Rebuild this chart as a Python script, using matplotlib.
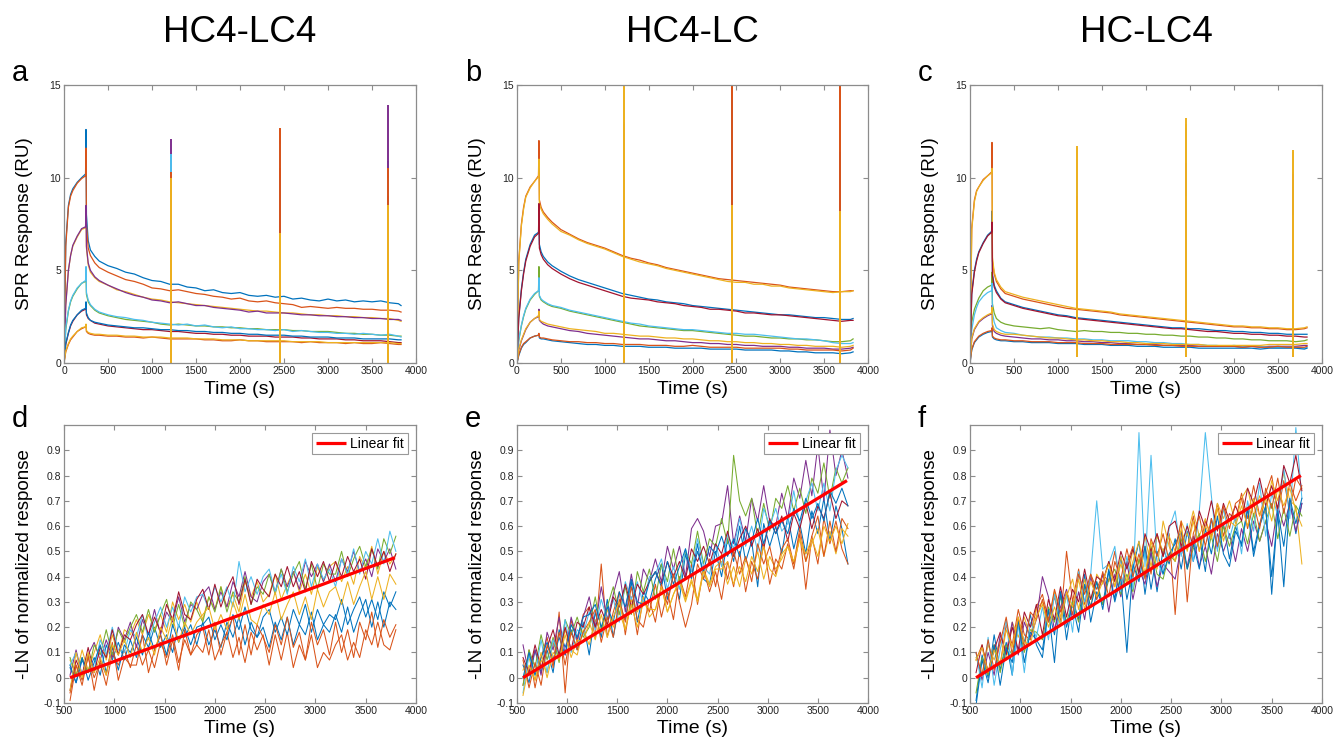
import matplotlib
matplotlib.use('Agg')
import matplotlib.pyplot as plt

plt.rcParams['font.family'] = ['Liberation Sans', 'DejaVu Sans']

# matlab default colour order
matlab_cols = ['#0072BD', '#D95319', '#EDB120', '#7E2F8E', '#77AC30', '#4DBEEE', '#A2142F']

titles = ['HC4-LC4', 'HC4-LC', 'HC-LC4']
letters_top = ['a', 'b', 'c']
letters_bot = ['d', 'e', 'f']

# ---------------- SPR sensorgrams (top row) ----------------
t_spr = [0, 20, 50, 75, 100, 150, 200, 245,
         250, 255, 275, 300, 350, 400,
         500, 600, 700, 800, 900, 1000, 1100, 1200, 1300, 1400,
         1500, 1600, 1700, 1800, 1900, 2000, 2100, 2200, 2300, 2400,
         2500, 2600, 2700, 2800, 2900, 3000, 3100, 3200, 3300, 3400,
         3500, 3600, 3700, 3800, 3830]

spr_a = [
    [0, 6.5, 8.5, 9.1, 9.4, 9.75, 10.0, 10.2,
     12.6, 8.0, 6.6, 6.1, 5.75, 5.5,
     5.25, 5.1, 4.9, 4.8, 4.6, 4.45, 4.4, 4.25, 4.25, 4.1,
     4.05, 3.9, 3.95, 3.8, 3.75, 3.8, 3.65, 3.6, 3.65, 3.55,
     3.6, 3.45, 3.5, 3.4, 3.35, 3.45, 3.35, 3.4, 3.3, 3.35,
     3.3, 3.35, 3.25, 3.2, 3.1],
    [0, 6.3, 8.4, 9.0, 9.3, 9.7, 9.95, 10.1,
     11.6, 7.5, 6.2, 5.8, 5.4, 5.15,
     4.9, 4.7, 4.5, 4.4, 4.25, 4.05, 4.0, 3.9, 3.95, 3.85,
     3.75, 3.7, 3.6, 3.55, 3.45, 3.5, 3.35, 3.3, 3.35, 3.25,
     3.2, 3.15, 3.0, 3.05, 3.0, 2.95, 3.0, 2.95, 2.95, 2.9,
     2.9, 2.85, 2.85, 2.8, 2.75],
    [0, 3.2, 5.0, 5.8, 6.3, 6.8, 7.2, 7.3,
     8.3, 6.2, 5.3, 4.9, 4.6, 4.4,
     4.2, 3.95, 3.85, 3.7, 3.55, 3.45, 3.4, 3.3, 3.25, 3.2,
     3.15, 3.1, 3.05, 3.0, 2.95, 2.9, 2.85, 2.8, 2.8, 2.75,
     2.7, 2.7, 2.65, 2.6, 2.6, 2.55, 2.55, 2.5, 2.5, 2.45,
     2.45, 2.4, 2.4, 2.3, 2.25],
    [0, 3.1, 5.0, 5.8, 6.35, 6.85, 7.25, 7.35,
     8.5, 6.3, 5.4, 5.0, 4.65, 4.45,
     4.2, 4.0, 3.8, 3.65, 3.55, 3.4, 3.35, 3.25, 3.3, 3.2,
     3.1, 3.1, 3.0, 2.95, 2.9, 2.85, 2.75, 2.8, 2.7, 2.7,
     2.7, 2.65, 2.6, 2.6, 2.55, 2.55, 2.5, 2.5, 2.45, 2.45,
     2.4, 2.4, 2.35, 2.35, 2.3],
    [0, 1.8, 2.8, 3.3, 3.6, 4.0, 4.3, 4.4,
     4.9, 3.7, 3.3, 3.1, 2.85, 2.7,
     2.55, 2.45, 2.35, 2.3, 2.25, 2.2, 2.1, 2.05, 2.1, 2.05,
     2.0, 2.0, 1.95, 1.95, 1.9, 1.9, 1.85, 1.85, 1.8, 1.8,
     1.8, 1.75, 1.75, 1.7, 1.7, 1.7, 1.65, 1.6, 1.6, 1.55,
     1.55, 1.5, 1.5, 1.45, 1.45],
    [0, 1.9, 2.85, 3.35, 3.65, 4.05, 4.3, 4.45,
     5.2, 3.8, 3.4, 3.15, 2.9, 2.75,
     2.6, 2.5, 2.45, 2.35, 2.3, 2.2, 2.15, 2.1, 2.05, 2.1,
     2.0, 2.05, 1.95, 1.9, 1.95, 1.85, 1.85, 1.8, 1.8, 1.75,
     1.8, 1.7, 1.75, 1.7, 1.65, 1.65, 1.6, 1.6, 1.55, 1.6,
     1.55, 1.5, 1.55, 1.45, 1.4],
    [0, 1.0, 1.6, 2.0, 2.25, 2.6, 2.8, 2.9,
     3.2, 2.6, 2.4, 2.3, 2.15, 2.1,
     2.0, 1.95, 1.9, 1.85, 1.8, 1.8, 1.75, 1.7, 1.7, 1.65,
     1.6, 1.6, 1.55, 1.55, 1.5, 1.5, 1.45, 1.45, 1.45, 1.4,
     1.4, 1.4, 1.35, 1.35, 1.3, 1.3, 1.3, 1.25, 1.25, 1.2,
     1.2, 1.2, 1.15, 1.1, 1.1],
    [0, 1.05, 1.65, 2.05, 2.3, 2.6, 2.85, 2.95,
     3.3, 2.7, 2.45, 2.3, 2.2, 2.15,
     2.05, 2.0, 1.95, 1.9, 1.9, 1.85, 1.8, 1.8, 1.75, 1.75,
     1.7, 1.7, 1.65, 1.65, 1.6, 1.6, 1.55, 1.55, 1.5, 1.5,
     1.5, 1.45, 1.45, 1.4, 1.4, 1.4, 1.35, 1.35, 1.35, 1.3,
     1.3, 1.3, 1.3, 1.25, 1.25],
    [0, 0.6, 1.0, 1.25, 1.4, 1.7, 1.85, 1.95,
     2.0, 1.7, 1.6, 1.55, 1.5, 1.5,
     1.45, 1.45, 1.4, 1.4, 1.35, 1.4, 1.35, 1.3, 1.3, 1.3,
     1.3, 1.25, 1.25, 1.2, 1.2, 1.25, 1.2, 1.2, 1.15, 1.15,
     1.15, 1.15, 1.1, 1.15, 1.1, 1.1, 1.1, 1.05, 1.1, 1.05,
     1.05, 1.1, 1.05, 1.0, 1.0],
    [0, 0.65, 1.05, 1.3, 1.45, 1.7, 1.9, 1.95,
     2.1, 1.75, 1.65, 1.6, 1.55, 1.55,
     1.5, 1.5, 1.45, 1.45, 1.4, 1.4, 1.4, 1.35, 1.35, 1.35,
     1.3, 1.3, 1.3, 1.25, 1.25, 1.25, 1.2, 1.2, 1.2, 1.2,
     1.2, 1.15, 1.15, 1.15, 1.15, 1.1, 1.1, 1.1, 1.1, 1.1,
     1.1, 1.1, 1.1, 1.05, 1.05],
]

spr_b = [
    [0, 2.5, 4.0, 4.9, 5.6, 6.4, 6.9, 7.05,
     7.3, 6.4, 6.0, 5.75, 5.45, 5.25,
     4.95, 4.7, 4.5, 4.35, 4.2, 4.05, 3.9, 3.75, 3.65, 3.55,
     3.45, 3.4, 3.3, 3.25, 3.2, 3.1, 3.05, 3.0, 2.95, 2.9,
     2.85, 2.8, 2.75, 2.7, 2.65, 2.6, 2.6, 2.55, 2.5, 2.45,
     2.45, 2.4, 2.35, 2.35, 2.4],
    [0, 5.5, 7.5, 8.4, 9.0, 9.5, 9.8, 10.1,
     12.0, 8.8, 8.4, 8.15, 7.85, 7.6,
     7.2, 6.95, 6.7, 6.5, 6.35, 6.2, 6.0, 5.8, 5.65, 5.55,
     5.4, 5.3, 5.15, 5.05, 4.95, 4.85, 4.75, 4.65, 4.55, 4.5,
     4.45, 4.4, 4.35, 4.3, 4.25, 4.2, 4.1, 4.05, 4.0, 3.95,
     3.9, 3.85, 3.85, 3.9, 3.9],
    [0, 5.4, 7.4, 8.3, 8.95, 9.45, 9.8, 10.05,
     11.0, 8.6, 8.3, 8.05, 7.75, 7.5,
     7.1, 6.9, 6.65, 6.45, 6.3, 6.15, 5.95, 5.75, 5.6, 5.45,
     5.35, 5.25, 5.1, 5.0, 4.9, 4.8, 4.7, 4.6, 4.5, 4.4,
     4.35, 4.35, 4.25, 4.25, 4.15, 4.15, 4.05, 4.0, 3.95, 3.9,
     3.85, 3.8, 3.85, 3.85, 3.9],
    [0, 0.7, 1.2, 1.5, 1.8, 2.2, 2.4, 2.5,
     2.9, 2.3, 2.2, 2.1, 2.0, 1.95,
     1.85, 1.75, 1.7, 1.6, 1.55, 1.5, 1.45, 1.4, 1.35, 1.3,
     1.3, 1.25, 1.2, 1.2, 1.15, 1.1, 1.1, 1.05, 1.05, 1.0,
     1.0, 0.95, 0.95, 0.9, 0.9, 0.9, 0.85, 0.85, 0.8, 0.8,
     0.8, 0.75, 0.75, 0.8, 0.85],
    [0, 1.2, 2.0, 2.5, 2.9, 3.4, 3.7, 3.9,
     5.2, 3.6, 3.4, 3.3, 3.15, 3.05,
     2.95, 2.8, 2.7, 2.6, 2.5, 2.4, 2.3, 2.2, 2.1, 2.0,
     1.95, 1.9, 1.85, 1.8, 1.75, 1.75, 1.7, 1.65, 1.6, 1.55,
     1.5, 1.45, 1.45, 1.4, 1.35, 1.35, 1.3, 1.3, 1.25, 1.25,
     1.2, 1.15, 1.15, 1.2, 1.3],
    [0, 1.25, 2.05, 2.55, 2.95, 3.45, 3.75, 3.9,
     4.6, 3.65, 3.45, 3.35, 3.2, 3.1,
     3.0, 2.85, 2.75, 2.65, 2.55, 2.45, 2.35, 2.25, 2.15, 2.1,
     2.0, 1.95, 1.9, 1.85, 1.8, 1.8, 1.75, 1.7, 1.65, 1.6,
     1.6, 1.55, 1.55, 1.5, 1.45, 1.4, 1.35, 1.3, 1.3, 1.25,
     1.2, 1.1, 1.05, 1.05, 1.1],
    [0, 2.4, 3.9, 4.8, 5.5, 6.3, 6.8, 7.0,
     8.6, 6.2, 5.85, 5.6, 5.3, 5.1,
     4.8, 4.55, 4.35, 4.2, 4.05, 3.9, 3.75, 3.6, 3.5, 3.45,
     3.4, 3.3, 3.25, 3.2, 3.1, 3.05, 3.0, 2.9, 2.9, 2.85,
     2.8, 2.7, 2.7, 2.65, 2.6, 2.6, 2.55, 2.5, 2.45, 2.4,
     2.35, 2.3, 2.25, 2.3, 2.3],
    [0, 0.4, 0.8, 1.0, 1.1, 1.35, 1.45, 1.5,
     1.55, 1.35, 1.3, 1.3, 1.25, 1.2,
     1.15, 1.1, 1.05, 1.0, 1.0, 0.95, 0.95, 0.9, 0.9, 0.9,
     0.85, 0.85, 0.85, 0.8, 0.8, 0.8, 0.8, 0.75, 0.75, 0.75,
     0.75, 0.7, 0.7, 0.7, 0.7, 0.65, 0.65, 0.6, 0.6, 0.55,
     0.55, 0.55, 0.5, 0.55, 0.6],
    [0, 0.45, 0.85, 1.05, 1.15, 1.35, 1.45, 1.5,
     1.6, 1.4, 1.35, 1.35, 1.3, 1.25,
     1.2, 1.15, 1.15, 1.1, 1.1, 1.05, 1.05, 1.0, 1.0, 1.0,
     0.95, 0.95, 0.95, 0.9, 0.9, 0.95, 0.9, 0.85, 0.85, 0.85,
     0.85, 0.8, 0.8, 0.8, 0.8, 0.8, 0.75, 0.75, 0.7, 0.7,
     0.7, 0.7, 0.65, 0.7, 0.8],
    [0, 0.75, 1.25, 1.55, 1.85, 2.2, 2.4, 2.55,
     2.8, 2.35, 2.25, 2.2, 2.1, 2.05,
     1.95, 1.85, 1.8, 1.75, 1.7, 1.6, 1.6, 1.55, 1.5, 1.45,
     1.45, 1.4, 1.35, 1.35, 1.3, 1.3, 1.25, 1.2, 1.2, 1.15,
     1.15, 1.1, 1.1, 1.05, 1.05, 1.0, 1.0, 0.95, 0.95, 0.9,
     0.9, 0.9, 0.85, 0.9, 0.95],
]

spr_c = [
    [0, 3.8, 5.0, 5.6, 6.0, 6.5, 6.9, 7.1,
     8.2, 4.8, 4.2, 3.9, 3.5, 3.3,
     3.15, 3.0, 2.9, 2.8, 2.7, 2.6, 2.55, 2.45, 2.4, 2.35,
     2.3, 2.25, 2.2, 2.15, 2.1, 2.05, 2.0, 1.95, 1.9, 1.9,
     1.85, 1.85, 1.8, 1.75, 1.75, 1.7, 1.7, 1.65, 1.65, 1.6,
     1.6, 1.55, 1.55, 1.55, 1.55],
    [0, 7.3, 8.8, 9.3, 9.5, 9.9, 10.1, 10.3,
     11.9, 5.5, 4.8, 4.4, 4.0, 3.75,
     3.6, 3.45, 3.35, 3.25, 3.15, 3.05, 2.95, 2.9, 2.85, 2.8,
     2.75, 2.7, 2.6, 2.55, 2.5, 2.45, 2.4, 2.35, 2.3, 2.25,
     2.2, 2.15, 2.1, 2.05, 2.0, 1.95, 1.95, 1.9, 1.9, 1.85,
     1.85, 1.8, 1.8, 1.85, 1.9],
    [0, 7.2, 8.7, 9.25, 9.5, 9.85, 10.1, 10.25,
     10.5, 5.7, 4.9, 4.5, 4.1, 3.85,
     3.7, 3.55, 3.45, 3.35, 3.25, 3.15, 3.05, 2.95, 2.9, 2.85,
     2.8, 2.75, 2.65, 2.6, 2.55, 2.5, 2.45, 2.4, 2.35, 2.3,
     2.25, 2.2, 2.15, 2.1, 2.05, 2.0, 2.0, 1.95, 1.95, 1.9,
     1.9, 1.85, 1.85, 1.9, 1.95],
    [0, 1.3, 1.8, 2.0, 2.2, 2.4, 2.55, 2.65,
     3.1, 2.0, 1.7, 1.6, 1.5, 1.45,
     1.4, 1.35, 1.3, 1.3, 1.25, 1.25, 1.2, 1.2, 1.15, 1.15,
     1.1, 1.1, 1.05, 1.05, 1.0, 1.0, 1.0, 0.95, 0.95, 0.95,
     0.95, 0.9, 0.9, 0.9, 0.9, 0.9, 0.85, 0.9, 0.85, 0.9,
     0.9, 0.9, 0.9, 0.95, 0.95],
    [0, 2.2, 2.9, 3.2, 3.5, 3.9, 4.1, 4.2,
     4.9, 3.2, 2.7, 2.4, 2.2, 2.1,
     2.0, 1.95, 1.9, 1.85, 1.9, 1.8, 1.75, 1.7, 1.75, 1.7,
     1.7, 1.65, 1.65, 1.6, 1.6, 1.55, 1.55, 1.5, 1.5, 1.45,
     1.45, 1.4, 1.4, 1.35, 1.35, 1.3, 1.3, 1.25, 1.25, 1.2,
     1.2, 1.2, 1.15, 1.2, 1.25],
    [0, 1.8, 2.6, 3.0, 3.3, 3.6, 3.8, 3.9,
     4.3, 2.7, 2.2, 1.9, 1.75, 1.65,
     1.6, 1.5, 1.45, 1.4, 1.4, 1.35, 1.35, 1.3, 1.3, 1.25,
     1.25, 1.2, 1.2, 1.2, 1.15, 1.15, 1.1, 1.1, 1.05, 1.05,
     1.0, 1.0, 0.95, 0.95, 0.9, 0.95, 0.9, 0.9, 0.9, 0.85,
     0.85, 0.85, 0.85, 0.8, 0.85],
    [0, 3.7, 4.9, 5.5, 5.95, 6.45, 6.85, 7.05,
     7.6, 4.7, 4.1, 3.8, 3.45, 3.25,
     3.1, 2.95, 2.85, 2.75, 2.65, 2.55, 2.5, 2.4, 2.35, 2.3,
     2.25, 2.2, 2.15, 2.1, 2.05, 2.0, 1.95, 1.9, 1.85, 1.85,
     1.8, 1.75, 1.7, 1.7, 1.65, 1.6, 1.6, 1.55, 1.55, 1.5,
     1.5, 1.45, 1.45, 1.4, 1.4],
    [0, 0.7, 1.1, 1.25, 1.4, 1.55, 1.65, 1.7,
     1.8, 1.4, 1.3, 1.25, 1.2, 1.2,
     1.15, 1.15, 1.1, 1.1, 1.1, 1.05, 1.05, 1.05, 1.0, 1.0,
     1.0, 0.95, 0.95, 0.95, 0.9, 0.9, 0.9, 0.85, 0.85, 0.85,
     0.85, 0.8, 0.8, 0.8, 0.8, 0.8, 0.8, 0.8, 0.75, 0.8,
     0.8, 0.8, 0.8, 0.75, 0.8],
    [0, 0.75, 1.15, 1.3, 1.45, 1.6, 1.7, 1.75,
     1.9, 1.45, 1.35, 1.3, 1.25, 1.25,
     1.2, 1.2, 1.15, 1.15, 1.15, 1.1, 1.1, 1.1, 1.05, 1.05,
     1.05, 1.0, 1.0, 1.0, 1.0, 1.0, 0.95, 0.95, 0.95, 0.9,
     0.9, 0.9, 0.9, 0.9, 0.9, 0.9, 0.85, 0.9, 0.85, 0.85,
     0.9, 0.85, 0.85, 0.85, 0.9],
    [0, 1.35, 1.85, 2.05, 2.25, 2.45, 2.6, 2.7,
     3.0, 2.1, 1.8, 1.7, 1.6, 1.55,
     1.55, 1.5, 1.45, 1.4, 1.35, 1.35, 1.3, 1.25, 1.25, 1.2,
     1.2, 1.15, 1.15, 1.1, 1.1, 1.05, 1.05, 1.05, 1.0, 1.0,
     1.0, 1.0, 0.95, 0.95, 0.95, 0.95, 0.95, 0.95, 0.95, 1.0,
     1.0, 1.0, 1.0, 1.05, 1.05],
]

# injection spikes (time, low end, high end per curve)
spike_t_a = [1215, 2450, 3680]
spike_t_b = [1215, 2455, 3680]
spike_t_c = [1220, 2455, 3670]
spike_lo_a = [0.0, 0.0, 0.0]
spike_lo_b = [0.0, 0.0, 0.0]
spike_lo_c = [0.3, 0.3, 0.3]
spike_hi_a = [[10.8, 11.5, 10.9], [10.2, 12.7, 10.4], [9.8, 11.3, 9.0], [12.1, 12.0, 13.9],
              [9.5, 11.0, 9.5], [11.3, 11.8, 10.0], [8.6, 10.5, 8.0], [9.0, 10.0, 9.0],
              [10.3, 12.6, 10.5], [10.0, 7.0, 8.5]]
spike_hi_b = [[7.0, 8.0, 7.0], [13.0, 15.5, 15.5], [15.5, 14.2, 13.7], [5.0, 5.0, 5.0],
              [6.0, 6.0, 6.0], [6.0, 6.0, 6.0], [8.0, 9.0, 8.5], [12.9, 14.2, 11.4],
              [12.9, 15.5, 15.5], [15.5, 8.5, 8.2]]
spike_hi_c = [[9.8, 10.8, 10.3], [9.5, 12.7, 10.3], [11.7, 13.2, 11.5], [8.0, 9.0, 8.0],
              [8.0, 9.0, 8.0], [9.9, 10.0, 9.5], [8.5, 10.8, 10.2], [8.0, 9.0, 8.0],
              [9.0, 9.0, 8.0], [11.6, 12.9, 11.4]]

# ---------------- -LN of normalized response (bottom row) ----------------
t_ln = [560, 620, 680, 740, 800, 860, 920, 980, 1040, 1100, 1160,
        1220, 1280, 1340, 1400, 1460, 1520, 1580, 1640, 1700, 1760, 1820,
        1880, 1940, 2000, 2060, 2120, 2180, 2240, 2300, 2360, 2420, 2480,
        2540, 2600, 2660, 2720, 2780, 2840, 2900, 2960, 3020, 3080, 3140,
        3200, 3260, 3320, 3380, 3440, 3500, 3560, 3620, 3680, 3740, 3800]

ln_d = [
    [0.04, -0.02, 0.07, 0.02, 0.08, 0.01, 0.13, 0.07, 0.14, 0.07, 0.15,
     0.08, 0.17, 0.12, 0.20, 0.12, 0.17, 0.10, 0.21, 0.16, 0.21, 0.13,
     0.22, 0.13, 0.19, 0.12, 0.22, 0.16, 0.24, 0.13, 0.22, 0.16, 0.20,
     0.12, 0.22, 0.15, 0.24, 0.13, 0.21, 0.17, 0.26, 0.15, 0.21, 0.18,
     0.25, 0.18, 0.28, 0.18, 0.25, 0.31, 0.20, 0.30, 0.20, 0.30, 0.27],
    [-0.06, 0.05, -0.01, 0.08, 0.00, 0.06, -0.03, 0.10, 0.05, 0.11, 0.04,
     0.13, 0.05, 0.11, 0.04, 0.14, 0.08, 0.17, 0.06, 0.15, 0.09, 0.13,
     0.10, 0.19, 0.07, 0.13, 0.18, 0.08, 0.16, 0.06, 0.18, 0.11, 0.17,
     0.05, 0.17, 0.07, 0.18, 0.04, 0.13, 0.07, 0.17, 0.04, 0.10, 0.07,
     0.13, 0.17, 0.07, 0.14, 0.08, 0.19, 0.13, 0.22, 0.13, 0.11, 0.19],
    [0.07, 0.01, 0.11, 0.03, 0.10, 0.17, 0.07, 0.17, 0.09, 0.19, 0.17,
     0.23, 0.17, 0.25, 0.19, 0.25, 0.18, 0.30, 0.23, 0.29, 0.22, 0.30,
     0.23, 0.32, 0.27, 0.36, 0.28, 0.33, 0.26, 0.38, 0.32, 0.38, 0.30,
     0.33, 0.41, 0.31, 0.37, 0.42, 0.34, 0.41, 0.33, 0.44, 0.38, 0.44,
     0.46, 0.38, 0.44, 0.37, 0.48, 0.43, 0.52, 0.41, 0.50, 0.45, 0.49],
    [0.01, 0.11, 0.01, 0.09, 0.14, 0.07, 0.15, 0.08, 0.20, 0.15, 0.22,
     0.12, 0.23, 0.17, 0.27, 0.17, 0.26, 0.22, 0.32, 0.22, 0.29, 0.27,
     0.33, 0.36, 0.27, 0.34, 0.28, 0.38, 0.32, 0.42, 0.32, 0.30, 0.38,
     0.41, 0.34, 0.43, 0.36, 0.42, 0.35, 0.46, 0.40, 0.45, 0.38, 0.45,
     0.38, 0.47, 0.42, 0.50, 0.42, 0.47, 0.40, 0.51, 0.46, 0.51, 0.43],
    [0.08, 0.01, 0.08, 0.02, 0.13, 0.09, 0.19, 0.09, 0.19, 0.14, 0.20,
     0.25, 0.18, 0.27, 0.18, 0.25, 0.31, 0.20, 0.29, 0.20, 0.30, 0.27,
     0.22, 0.32, 0.26, 0.36, 0.26, 0.34, 0.30, 0.40, 0.29, 0.36, 0.33,
     0.41, 0.33, 0.43, 0.34, 0.41, 0.46, 0.35, 0.45, 0.35, 0.45, 0.41,
     0.41, 0.50, 0.40, 0.47, 0.52, 0.44, 0.51, 0.43, 0.55, 0.49, 0.56],
    [0.05, 0.10, 0.01, 0.09, 0.03, 0.15, 0.09, 0.20, 0.11, 0.10, 0.19,
     0.16, 0.25, 0.15, 0.22, 0.28, 0.20, 0.28, 0.20, 0.32, 0.26, 0.32,
     0.33, 0.27, 0.36, 0.30, 0.36, 0.28, 0.46, 0.34, 0.40, 0.33, 0.40,
     0.43, 0.34, 0.41, 0.33, 0.44, 0.38, 0.47, 0.36, 0.45, 0.39, 0.43,
     0.36, 0.47, 0.41, 0.51, 0.41, 0.50, 0.45, 0.55, 0.45, 0.58, 0.50],
    [-0.05, 0.07, 0.01, 0.12, 0.02, 0.12, 0.08, 0.19, 0.09, 0.17, 0.15,
     0.21, 0.25, 0.17, 0.24, 0.18, 0.29, 0.23, 0.34, 0.25, 0.23, 0.31,
     0.35, 0.27, 0.37, 0.28, 0.35, 0.40, 0.29, 0.39, 0.29, 0.39, 0.35,
     0.32, 0.41, 0.36, 0.44, 0.36, 0.42, 0.34, 0.46, 0.40, 0.46, 0.38,
     0.46, 0.40, 0.48, 0.42, 0.47, 0.39, 0.51, 0.44, 0.50, 0.42, 0.49],
    [0.05, -0.02, 0.08, -0.01, 0.06, 0.13, 0.02, 0.12, 0.03, 0.13, 0.10,
     0.16, 0.09, 0.18, 0.11, 0.17, 0.09, 0.21, 0.14, 0.20, 0.13, 0.20,
     0.21, 0.24, 0.15, 0.21, 0.15, 0.25, 0.19, 0.28, 0.19, 0.16, 0.24,
     0.27, 0.18, 0.24, 0.17, 0.27, 0.21, 0.29, 0.18, 0.27, 0.21, 0.25,
     0.23, 0.31, 0.21, 0.27, 0.32, 0.24, 0.31, 0.23, 0.34, 0.28, 0.34],
    [-0.09, 0.05, -0.03, 0.09, -0.05, 0.07, 0.01, 0.14, -0.01, 0.08, 0.05,
     0.05, 0.17, 0.02, 0.11, 0.17, 0.05, 0.15, 0.03, 0.19, 0.09, 0.17,
     0.20, 0.09, 0.22, 0.09, 0.18, 0.24, 0.09, 0.21, 0.09, 0.21, 0.16,
     0.10, 0.21, 0.13, 0.24, 0.12, 0.18, 0.07, 0.22, 0.13, 0.19, 0.09,
     0.22, 0.10, 0.19, 0.08, 0.22, 0.15, 0.26, 0.12, 0.23, 0.16, 0.21],
    [-0.05, 0.10, 0.00, 0.10, 0.02, 0.08, 0.01, 0.13, 0.09, 0.15, 0.08,
     0.18, 0.10, 0.16, 0.09, 0.20, 0.15, 0.24, 0.14, 0.22, 0.17, 0.22,
     0.25, 0.28, 0.19, 0.25, 0.19, 0.30, 0.23, 0.33, 0.23, 0.21, 0.29,
     0.25, 0.34, 0.23, 0.29, 0.34, 0.25, 0.32, 0.23, 0.35, 0.28, 0.34,
     0.36, 0.29, 0.38, 0.29, 0.36, 0.42, 0.31, 0.40, 0.31, 0.41, 0.37],
]

ln_e = [
    [0.05, -0.02, 0.11, 0.02, 0.11, 0.02, 0.19, 0.12, 0.19, 0.11, 0.22,
     0.09, 0.26, 0.16, 0.31, 0.16, 0.29, 0.23, 0.38, 0.22, 0.34, 0.30,
     0.39, 0.45, 0.31, 0.41, 0.31, 0.49, 0.39, 0.53, 0.39, 0.37, 0.50,
     0.40, 0.55, 0.46, 0.60, 0.46, 0.54, 0.36, 0.61, 0.52, 0.60, 0.49,
     0.64, 0.51, 0.61, 0.49, 0.66, 0.57, 0.71, 0.54, 0.68, 0.59, 0.45],
    [-0.03, 0.11, -0.04, 0.08, 0.16, 0.04, 0.26, -0.06, 0.23, 0.14, 0.25,
     0.28, 0.16, 0.45, 0.16, 0.26, 0.34, 0.17, 0.32, 0.17, 0.32, 0.26,
     0.37, 0.24, 0.34, 0.23, 0.40, 0.32, 0.45, 0.29, 0.43, 0.34, 0.42,
     0.31, 0.46, 0.36, 0.50, 0.34, 0.46, 0.39, 0.53, 0.37, 0.47, 0.43,
     0.53, 0.43, 0.57, 0.35, 0.56, 0.45, 0.63, 0.53, 0.62, 0.51, 0.45],
    [0.03, 0.08, -0.01, 0.07, 0.02, 0.14, 0.08, 0.19, 0.11, 0.09, 0.19,
     0.13, 0.23, 0.18, 0.27, 0.20, 0.26, 0.19, 0.31, 0.26, 0.32, 0.24,
     0.27, 0.36, 0.26, 0.33, 0.39, 0.31, 0.39, 0.31, 0.43, 0.37, 0.44,
     0.46, 0.37, 0.44, 0.36, 0.47, 0.41, 0.50, 0.39, 0.48, 0.43, 0.47,
     0.52, 0.45, 0.55, 0.46, 0.53, 0.59, 0.48, 0.58, 0.49, 0.59, 0.56],
    [0.13, 0.01, 0.11, 0.01, 0.18, 0.11, 0.24, 0.09, 0.24, 0.15, 0.24,
     0.32, 0.20, 0.36, 0.23, 0.33, 0.42, 0.26, 0.41, 0.28, 0.43, 0.38,
     0.47, 0.38, 0.52, 0.43, 0.52, 0.40, 0.59, 0.63, 0.58, 0.48, 0.60,
     0.61, 0.76, 0.53, 0.64, 0.54, 0.71, 0.62, 0.76, 0.62, 0.60, 0.73,
     0.63, 0.79, 0.71, 0.86, 0.72, 0.92, 0.70, 0.98, 0.80, 0.90, 0.79],
    [-0.03, 0.11, 0.04, 0.17, 0.07, 0.16, 0.06, 0.23, 0.17, 0.24, 0.16,
     0.20, 0.32, 0.19, 0.28, 0.36, 0.25, 0.36, 0.25, 0.42, 0.34, 0.43,
     0.31, 0.45, 0.38, 0.51, 0.38, 0.50, 0.45, 0.58, 0.45, 0.55, 0.52,
     0.63, 0.53, 0.88, 0.70, 0.64, 0.71, 0.56, 0.69, 0.58, 0.71, 0.67,
     0.76, 0.66, 0.75, 0.65, 0.79, 0.73, 0.85, 0.71, 0.83, 0.77, 0.83],
    [-0.06, 0.09, 0.01, 0.15, 0.02, 0.15, 0.09, 0.23, 0.10, 0.19, 0.17,
     0.26, 0.19, 0.31, 0.23, 0.31, 0.22, 0.38, 0.31, 0.38, 0.29, 0.40,
     0.41, 0.47, 0.35, 0.44, 0.35, 0.51, 0.42, 0.55, 0.44, 0.41, 0.53,
     0.44, 0.57, 0.51, 0.63, 0.52, 0.60, 0.50, 0.67, 0.60, 0.67, 0.58,
     0.61, 0.74, 0.60, 0.70, 0.77, 0.66, 0.77, 0.66, 0.82, 0.88, 0.83],
    [0.08, 0.02, 0.13, 0.04, 0.12, 0.19, 0.09, 0.20, 0.11, 0.22, 0.20,
     0.28, 0.20, 0.27, 0.21, 0.32, 0.28, 0.37, 0.28, 0.37, 0.33, 0.38,
     0.42, 0.37, 0.46, 0.40, 0.46, 0.39, 0.51, 0.46, 0.52, 0.45, 0.53,
     0.49, 0.58, 0.48, 0.55, 0.60, 0.52, 0.59, 0.51, 0.63, 0.57, 0.64,
     0.54, 0.65, 0.59, 0.69, 0.59, 0.68, 0.63, 0.73, 0.63, 0.70, 0.68],
    [0.00, 0.10, 0.01, 0.08, 0.14, 0.07, 0.16, 0.09, 0.21, 0.16, 0.24,
     0.25, 0.29, 0.20, 0.28, 0.22, 0.34, 0.28, 0.39, 0.30, 0.29, 0.38,
     0.42, 0.36, 0.46, 0.37, 0.44, 0.51, 0.40, 0.50, 0.42, 0.52, 0.49,
     0.56, 0.48, 0.55, 0.48, 0.59, 0.54, 0.63, 0.53, 0.62, 0.57, 0.62,
     0.57, 0.67, 0.62, 0.71, 0.63, 0.69, 0.62, 0.74, 0.69, 0.75, 0.68],
    [0.07, -0.04, 0.06, -0.03, 0.13, 0.06, 0.18, 0.05, 0.18, 0.11, 0.18,
     0.22, 0.27, 0.14, 0.24, 0.16, 0.31, 0.22, 0.36, 0.23, 0.20, 0.31,
     0.22, 0.37, 0.29, 0.41, 0.30, 0.20, 0.29, 0.45, 0.39, 0.47, 0.36,
     0.49, 0.39, 0.50, 0.41, 0.48, 0.38, 0.53, 0.45, 0.52, 0.41, 0.51,
     0.55, 0.45, 0.59, 0.46, 0.56, 0.64, 0.48, 0.62, 0.50, 0.63, 0.59],
    [-0.07, 0.05, -0.01, 0.10, 0.00, 0.10, 0.07, 0.17, 0.08, 0.15, 0.14,
     0.22, 0.15, 0.25, 0.16, 0.24, 0.30, 0.19, 0.29, 0.20, 0.30, 0.27,
     0.27, 0.36, 0.26, 0.33, 0.38, 0.30, 0.38, 0.30, 0.42, 0.36, 0.43,
     0.43, 0.46, 0.37, 0.44, 0.38, 0.48, 0.42, 0.52, 0.43, 0.40, 0.49,
     0.52, 0.46, 0.55, 0.49, 0.55, 0.48, 0.60, 0.54, 0.60, 0.53, 0.61],
]

ln_f = [
    [-0.09, 0.09, 0.00, 0.17, 0.03, 0.14, 0.01, 0.23, 0.14, 0.25, 0.13,
     0.08, 0.27, 0.17, 0.34, 0.15, 0.31, 0.23, 0.41, 0.22, 0.34, 0.29,
     0.43, 0.31, 0.48, 0.31, 0.43, 0.54, 0.33, 0.50, 0.34, 0.51, 0.45,
     0.55, 0.43, 0.58, 0.46, 0.56, 0.42, 0.63, 0.51, 0.61, 0.47, 0.60,
     0.52, 0.67, 0.48, 0.60, 0.67, 0.40, 0.65, 0.36, 0.70, 0.57, 0.69],
    [0.07, 0.13, 0.02, 0.13, 0.05, 0.21, 0.13, 0.27, 0.17, 0.15, 0.28,
     0.33, 0.23, 0.32, 0.22, 0.50, 0.30, 0.43, 0.29, 0.41, 0.35, 0.41,
     0.38, 0.50, 0.36, 0.45, 0.52, 0.42, 0.52, 0.41, 0.57, 0.48, 0.57,
     0.25, 0.58, 0.51, 0.64, 0.50, 0.62, 0.56, 0.69, 0.56, 0.65, 0.62,
     0.73, 0.63, 0.76, 0.64, 0.73, 0.80, 0.65, 0.78, 0.66, 0.79, 0.75],
    [0.08, 0.01, 0.13, 0.07, 0.15, 0.07, 0.22, 0.16, 0.24, 0.16, 0.27,
     0.30, 0.22, 0.34, 0.24, 0.32, 0.39, 0.27, 0.39, 0.28, 0.41, 0.37,
     0.46, 0.36, 0.45, 0.37, 0.51, 0.45, 0.56, 0.44, 0.56, 0.50, 0.56,
     0.50, 0.62, 0.56, 0.66, 0.56, 0.63, 0.55, 0.69, 0.63, 0.70, 0.61,
     0.71, 0.75, 0.64, 0.72, 0.65, 0.78, 0.70, 0.81, 0.70, 0.68, 0.45],
    [0.10, -0.01, 0.10, 0.01, 0.17, 0.10, 0.22, 0.09, 0.22, 0.16, 0.23,
     0.40, 0.32, 0.19, 0.28, 0.35, 0.23, 0.34, 0.23, 0.40, 0.31, 0.41,
     0.26, 0.41, 0.32, 0.46, 0.31, 0.43, 0.37, 0.50, 0.36, 0.45, 0.42,
     0.39, 0.52, 0.44, 0.56, 0.44, 0.52, 0.41, 0.57, 0.50, 0.57, 0.46,
     0.59, 0.50, 0.62, 0.54, 0.62, 0.52, 0.68, 0.60, 0.69, 0.58, 0.69],
    [-0.06, 0.08, 0.01, 0.13, 0.02, 0.13, 0.09, 0.22, 0.10, 0.19, 0.18,
     0.15, 0.28, 0.22, 0.32, 0.22, 0.30, 0.22, 0.36, 0.31, 0.38, 0.29,
     0.39, 0.43, 0.33, 0.41, 0.34, 0.47, 0.40, 0.52, 0.41, 0.39, 0.49,
     0.46, 0.55, 0.43, 0.51, 0.57, 0.46, 0.56, 0.46, 0.60, 0.52, 0.60,
     0.62, 0.53, 0.65, 0.54, 0.62, 0.69, 0.55, 0.67, 0.56, 0.68, 0.64],
    [0.10, -0.04, 0.16, -0.03, 0.11, 0.23, 0.01, 0.21, 0.02, 0.22, 0.16,
     0.28, 0.15, 0.33, 0.21, 0.33, 0.18, 0.42, 0.30, 0.41, 0.70, 0.43,
     0.45, 0.52, 0.34, 0.48, 0.35, 0.97, 0.44, 0.88, 0.46, 0.41, 0.59,
     0.66, 0.48, 0.61, 0.46, 0.66, 0.97, 0.72, 0.50, 0.67, 0.55, 0.64,
     0.49, 0.70, 0.58, 0.77, 0.56, 0.73, 0.64, 0.83, 0.63, 0.99, 0.71],
    [0.02, 0.13, 0.02, 0.11, 0.18, 0.09, 0.20, 0.11, 0.26, 0.20, 0.29,
     0.17, 0.31, 0.23, 0.36, 0.24, 0.35, 0.30, 0.43, 0.31, 0.40, 0.38,
     0.46, 0.38, 0.50, 0.43, 0.51, 0.41, 0.57, 0.50, 0.57, 0.48, 0.60,
     0.62, 0.52, 0.60, 0.52, 0.66, 0.59, 0.70, 0.58, 0.69, 0.62, 0.68,
     0.62, 0.75, 0.69, 0.79, 0.68, 0.76, 0.67, 0.84, 0.77, 0.88, 0.74],
    [-0.11, 0.07, -0.02, 0.13, -0.03, 0.12, 0.06, 0.23, 0.06, 0.18, 0.15,
     0.11, 0.27, 0.06, 0.34, 0.20, 0.29, 0.18, 0.37, 0.28, 0.38, 0.27,
     0.42, 0.30, 0.40, 0.10, 0.45, 0.38, 0.52, 0.35, 0.50, 0.41, 0.49,
     0.53, 0.58, 0.43, 0.53, 0.43, 0.59, 0.49, 0.64, 0.49, 0.44, 0.58,
     0.53, 0.67, 0.50, 0.61, 0.68, 0.33, 0.66, 0.52, 0.71, 0.61, 0.71],
    [0.10, 0.01, 0.15, 0.03, 0.14, 0.24, 0.09, 0.24, 0.12, 0.26, 0.23,
     0.31, 0.22, 0.35, 0.26, 0.34, 0.25, 0.41, 0.33, 0.41, 0.31, 0.42,
     0.32, 0.46, 0.39, 0.51, 0.40, 0.49, 0.39, 0.55, 0.48, 0.57, 0.46,
     0.50, 0.62, 0.30, 0.57, 0.64, 0.52, 0.63, 0.52, 0.68, 0.59, 0.69,
     0.71, 0.59, 0.69, 0.59, 0.75, 0.67, 0.79, 0.65, 0.77, 0.70, 0.76],
    [0.07, 0.12, 0.02, 0.11, 0.05, 0.19, 0.12, 0.24, 0.14, 0.13, 0.24,
     0.29, 0.20, 0.28, 0.21, 0.34, 0.28, 0.39, 0.27, 0.38, 0.32, 0.38,
     0.45, 0.36, 0.48, 0.38, 0.46, 0.54, 0.41, 0.54, 0.43, 0.62, 0.52,
     0.46, 0.59, 0.50, 0.62, 0.50, 0.60, 0.55, 0.67, 0.54, 0.62, 0.60,
     0.68, 0.60, 0.71, 0.64, 0.71, 0.62, 0.75, 0.68, 0.75, 0.66, 0.60],
]

# linear fits (start / end)
fit_t = [560, 3790]
fit_d = [0.0, 0.475]
fit_e = [0.0, 0.78]
fit_f = [0.0, 0.80]

spr_xticks = [0, 500, 1000, 1500, 2000, 2500, 3000, 3500, 4000]
spr_yticks = [0, 5, 10, 15]
ln_xticks = [500, 1000, 1500, 2000, 2500, 3000, 3500, 4000]
ln_yticks = [-0.1, 0, 0.1, 0.2, 0.3, 0.4, 0.5, 0.6, 0.7, 0.8, 0.9]
ln_yticklabels = ['-0.1', '0', '0.1', '0.2', '0.3', '0.4', '0.5', '0.6', '0.7', '0.8', '0.9']

edge_col = '#8c8c8c'


def matlab_box(ax):
    for sp in ax.spines.values():
        sp.set_color(edge_col)
        sp.set_linewidth(0.9)
    ax.tick_params(direction='in', length=3.5, width=0.8, color=edge_col,
                   top=True, right=True, labelsize=7.5, labelcolor='#222222')
    ax.tick_params(axis='x', pad=2.5)
    ax.tick_params(axis='y', pad=2)


fig = plt.figure(figsize=(13.37, 7.38), dpi=100)

lefts = [64, 517, 970]
widths = [352, 351, 352]
W, H = 1337.0, 738.0

spr_sets = [(spr_a, spike_t_a, spike_lo_a, spike_hi_a),
            (spr_b, spike_t_b, spike_lo_b, spike_hi_b),
            (spr_c, spike_t_c, spike_lo_c, spike_hi_c)]
ln_sets = [(ln_d, fit_d), (ln_e, fit_e), (ln_f, fit_f)]

for p in range(3):
    # ---- top: SPR response ----
    ax = fig.add_axes([lefts[p] / W, 1 - 363 / H, widths[p] / W, 278 / H])
    curves, st, slo, shi = spr_sets[p]
    for k, y in enumerate(curves):
        col = matlab_cols[k % 7]
        ax.plot(t_spr, y, color=col, lw=0.9)
        ax.vlines(st, slo, shi[k], color=col, lw=1.4)
    ax.set_xlim(0, 4000)
    ax.set_ylim(0, 15)
    ax.set_xticks(spr_xticks)
    ax.set_yticks(spr_yticks)
    matlab_box(ax)
    ax.set_xlabel('Time (s)', fontsize=14)
    ax.set_ylabel('SPR Response (RU)', fontsize=13.5)
    ax.xaxis.set_label_coords(0.5, -0.066)
    ax.yaxis.set_label_coords(-0.088, 0.5)
    fig.text((lefts[p] + widths[p] / 2) / W, 1 - 32 / H, titles[p],
             fontsize=26.5, ha='center', va='center')
    fig.text((lefts[p] - 52) / W, 1 - 81 / H, letters_top[p],
             fontsize=21, ha='left', va='baseline')

    # ---- bottom: -LN of normalized response ----
    ax2 = fig.add_axes([lefts[p] / W, 1 - 703 / H, widths[p] / W, 278 / H])
    lcurves, fit = ln_sets[p]
    for k, y in enumerate(lcurves):
        ax2.plot(t_ln, y, color=matlab_cols[k % 7], lw=0.75)
    ax2.plot(fit_t, fit, color='#FF0000', lw=2.3, label='Linear fit',
             solid_capstyle='butt')
    ax2.set_xlim(500, 4000)
    ax2.set_ylim(-0.1, 1.0)
    ax2.set_xticks(ln_xticks)
    ax2.set_yticks(ln_yticks)
    ax2.set_yticklabels(ln_yticklabels)
    matlab_box(ax2)
    ax2.set_xlabel('Time (s)', fontsize=14)
    ax2.set_ylabel('-LN of normalized response', fontsize=13.5)
    ax2.xaxis.set_label_coords(0.5, -0.06)
    ax2.yaxis.set_label_coords(-0.088, 0.5)
    leg = ax2.legend(loc='upper right', fontsize=10, fancybox=False,
                     framealpha=1, edgecolor='#999999', borderpad=0.25,
                     handlelength=2.2, handletextpad=0.3, borderaxespad=0.6)
    leg.get_frame().set_linewidth(0.8)
    fig.text((lefts[p] - 52) / W, 1 - 427 / H, letters_bot[p],
             fontsize=21, ha='left', va='baseline')

fig.savefig('out.png', dpi=100)
